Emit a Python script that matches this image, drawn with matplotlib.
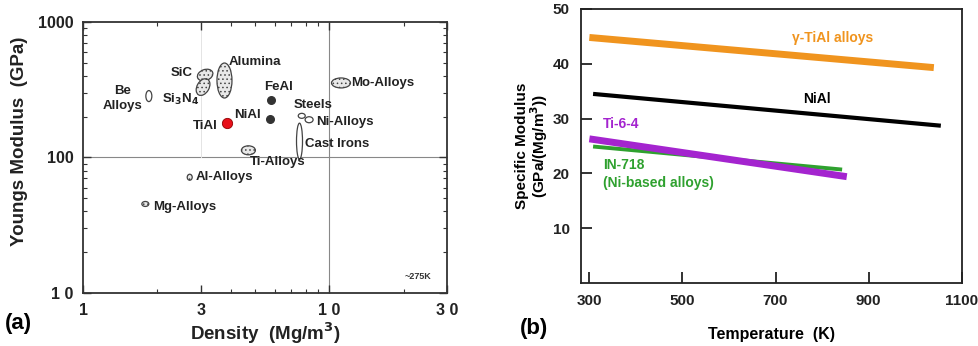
import matplotlib
matplotlib.use("Agg")
import matplotlib.pyplot as plt
from matplotlib.patches import Ellipse
from matplotlib.transforms import ScaledTranslation
import numpy as np

plt.rcParams['font.family'] = ['Liberation Sans', 'DejaVu Sans']
plt.rcParams['font.weight'] = 'bold'
plt.rcParams['hatch.color'] = '#8a8a8a'
plt.rcParams['hatch.linewidth'] = 0.6

# ---------------- Panel (a) data ----------------
mat_names = ["Be", "SiC", "Si3N4", "Alumina", "Ti-Alloys", "Steels", "Ni-Alloys",
             "Cast Irons", "Mo-Alloys", "Al-Alloys", "Mg-Alloys"]
mat_density = [1.85, 3.13, 3.07, 3.75, 4.69, 7.72, 8.27, 7.56, 11.14, 2.71, 1.79]
mat_modulus = [284, 406, 331, 370, 113, 203, 190, 132, 355, 71.5, 45.4]
mat_w_px = [6, 16, 18, 15, 14, 7, 8, 6, 19, 5, 7]
mat_h_px = [11, 11, 12, 35, 9, 5, 6, 36, 10, 6, 5]
mat_angle = [0, 20, 60, 0, 0, 0, 0, 0, 0, 0, 0]
mat_dotted = [False, True, True, True, True, False, False, False, True, True, True]

dot_names = ["FeAl", "NiAl", "TiAl"]
dot_density = [5.78, 5.75, 3.83]
dot_modulus = [266, 192, 181]

label_texts = ["Be\nAlloys", "SiC", "Si$_3$N$_4$", "Alumina", "FeAl", "NiAl", "TiAl",
               "Steels", "Ni-Alloys", "Cast Irons", "Ti-Alloys", "Mo-Alloys",
               "Al-Alloys", "Mg-Alloys"]
label_x = [1.45, 2.52, 2.48, 4.99, 6.19, 4.67, 3.13, 8.58, 11.6, 10.75, 6.19, 16.4, 3.74, 2.59]
label_y = [272, 421, 266, 507, 331, 206, 171, 244, 183, 126, 92.7, 355, 71.8, 43.2]

xa_ticks = [1, 3, 10, 30]
xa_ticklabels = ["1", "3", "1 0", "3 0"]
ya_ticks = [10, 100, 1000]
ya_ticklabels = ["1 0", "100", "1000"]

# ---------------- Panel (b) data ----------------
gamma_T = [300, 1040]
gamma_v = [44.8, 39.3]
niall_T = [308, 1055]
niall_v = [34.5, 28.7]
ti64_T = [300, 853]
ti64_v = [26.3, 19.4]
in718_T = [308, 843]
in718_v = [24.9, 20.7]
xb_ticks = [300, 500, 700, 900, 1100]
yb_ticks = [10, 20, 30, 40, 50]

fig = plt.figure(figsize=(9.79, 3.46), dpi=100)

# ================= Panel (a) =================
axa = fig.add_axes([0.0848, 0.1532, 0.3718, 0.7832])
axa.set_xscale('log')
axa.set_yscale('log')
axa.set_xlim(1, 30)
axa.set_ylim(10, 1000)

axa.axvline(10, color='#888888', lw=0.8, zorder=0)
axa.axhline(100, color='#888888', lw=0.8, zorder=0)
axa.axvline(3, ymin=0.5, color='#e4e4e4', lw=0.7, zorder=0)

for x, y, w, h, ang, dotted in zip(mat_density, mat_modulus, mat_w_px, mat_h_px,
                                    mat_angle, mat_dotted):
    tr = fig.dpi_scale_trans + ScaledTranslation(x, y, axa.transData)
    e = Ellipse((0, 0), w / 100.0, h / 100.0, angle=ang, transform=tr,
                facecolor='#e8e8e8' if dotted else 'white',
                edgecolor='#444444', lw=0.9, hatch='....' if dotted else None,
                zorder=3)
    axa.add_patch(e)

axa.scatter(dot_density[:2], dot_modulus[:2], s=30, color='#333333', zorder=4)
axa.scatter(dot_density[2:], dot_modulus[2:], s=55, color='#e8101a',
            edgecolor='#900000', lw=0.6, zorder=4)

for t, x, y in zip(label_texts, label_x, label_y):
    axa.text(x, y, t, ha='center', va='center', fontsize=9.5, fontweight='bold',
             color='#222222', linespacing=1.3)
axa.text(22.9, 13.2, "~275K", ha='center', va='center', fontsize=6.5,
         fontweight='bold', color='#333333')

axa.set_xticks(xa_ticks)
axa.set_xticklabels(xa_ticklabels)
axa.set_yticks(ya_ticks)
axa.set_yticklabels(ya_ticklabels)
axa.tick_params(which='both', direction='in', top=True, right=True,
                colors='#333333', labelcolor='#222222', labelsize=11.5)
axa.tick_params(which='major', length=6, width=1, pad=7)
axa.tick_params(which='minor', length=3, width=0.8, labelleft=False, labelbottom=False)
axa.xaxis.set_minor_formatter(matplotlib.ticker.NullFormatter())
axa.yaxis.set_minor_formatter(matplotlib.ticker.NullFormatter())
for sp in axa.spines.values():
    sp.set_linewidth(1.3)
    sp.set_color('#333333')

axa.set_ylabel("Youngs Modulus  (GPa)", fontsize=13.5, fontweight='bold', color='#222222')
axa.yaxis.set_label_coords(-0.15, 0.56)
axa.set_xlabel("Density  (Mg/m$^\\mathbf{3}$)", fontsize=13.5, fontweight='bold', color='#222222')
axa.xaxis.set_label_coords(0.5, -0.1)
fig.text(0.019, 0.066, "(a)", fontsize=16, fontweight='bold', ha='center', va='center')

# ================= Panel (b) =================
axb = fig.add_axes([0.5932, 0.1821, 0.3892, 0.792])
axb.set_xlim(281.5, 1100)
axb.set_ylim(0, 50)

axb.plot(gamma_T, gamma_v, color='#F0941E', lw=5, solid_capstyle='butt')
axb.plot(niall_T, niall_v, color='black', lw=3, solid_capstyle='butt')
axb.plot(in718_T, in718_v, color='#2FA12F', lw=2.8, solid_capstyle='butt')
axb.plot(ti64_T, ti64_v, color='#A424CF', lw=5, solid_capstyle='butt')

axb.text(735, 44.75, "γ-TiAl alloys", color='#F0941E', fontsize=10, fontweight='bold',
         ha='left', va='center')
axb.text(789, 33.5, "NiAl", color='black', fontsize=10, fontweight='bold',
         ha='center', va='center')
axb.text(329, 29.1, "Ti-6-4", color='#A424CF', fontsize=10, fontweight='bold',
         ha='left', va='center')
axb.text(329, 21.5, "IN-718", color='#2FA12F', fontsize=10, fontweight='bold',
         ha='left', va='center')
axb.text(329, 18.3, "(Ni-based alloys)", color='#2FA12F', fontsize=10, fontweight='bold',
         ha='left', va='center')

axb.set_xticks(xb_ticks)
axb.set_yticks(yb_ticks)
axb.tick_params(direction='in', length=8, width=1.3, labelsize=11, pad=8,
                colors='#222222')
for sp in axb.spines.values():
    sp.set_linewidth(1.3)
    sp.set_color('#222222')

axb.set_xlabel("Temperature  (K)", fontsize=11.5, fontweight='bold')
axb.xaxis.set_label_coords(0.501, -0.16)
axb.set_ylabel("Specific Modulus\n(GPa/(Mg/m$^\\mathbf{3}$))", fontsize=11,
               fontweight='bold', linespacing=1.0)
axb.yaxis.set_label_coords(-0.08, 0.5)
fig.text(0.545, 0.052, "(b)", fontsize=16, fontweight='bold', ha='center', va='center')

fig.savefig("out.png", dpi=100)
